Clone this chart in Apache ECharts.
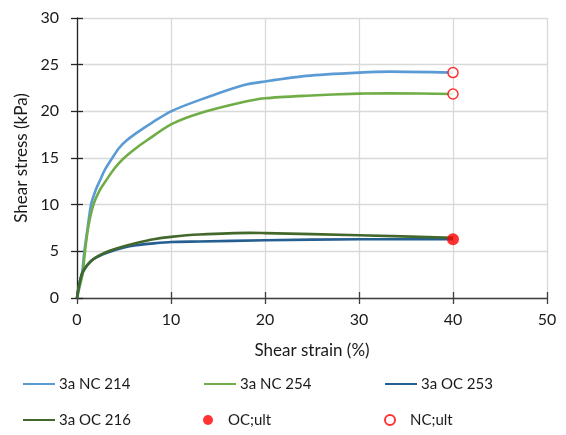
<!DOCTYPE html>
<html>
<head>
<meta charset="utf-8">
<script src="https://cdn.jsdelivr.net/npm/echarts@6/dist/echarts.min.js"></script>
<style>
  html, body { margin: 0; padding: 0; background: #ffffff; }
  #chart { width: 566px; height: 435px; }
</style>
</head>
<body>
<div id="chart"></div>
<script>
// Shear strain (%) vs shear stress (kPa) for each test, as [strain, stress] pairs
const nc214 = [[0,0],[0.25,1.3],[0.53,2.6],[0.78,5],[1.14,7.6],[1.49,10],[2.0,11.6],[2.4,12.5],[3.0,13.8],[3.75,15],[4.5,16.1],[5.3,16.9],[6.5,17.8],[8,18.8],[10,20],[13,21.2],[17.7,22.8],[20,23.2],[24.4,23.8],[30,24.15],[33.3,24.25],[40,24.15]];
const nc254 = [[0,0],[0.3,1.3],[0.6,2.6],[0.85,5],[1.2,7.6],[1.75,10],[2.4,11.5],[3.1,12.6],[4.0,13.9],[5.0,15],[6.2,16],[7.45,16.9],[10,18.6],[13.06,19.8],[17.7,21.0],[20,21.4],[24.4,21.67],[30,21.9],[33.3,21.93],[40,21.86]];
const oc253 = [[0,0],[0.18,1.18],[0.53,2.6],[1.07,3.5],[1.78,4.2],[3.2,4.85],[5,5.4],[6.32,5.65],[8.16,5.85],[10,6.0],[13,6.05],[20,6.19],[30,6.3],[40,6.3]];
const oc216 = [[0,0],[0.18,1.18],[0.53,2.6],[1.07,3.5],[1.78,4.2],[3.2,4.95],[5,5.55],[6.32,5.9],[8.16,6.3],[10,6.55],[13,6.8],[18.4,6.98],[20,6.95],[30,6.73],[40,6.45]];
// Ultimate values at the end of each test
const ocUlt = [[40,6.3]];
const ncUlt = [[40,24.15],[40,21.86]];

const xTicks = { min: 0, max: 50, interval: 10 };
const yTicks = { min: 0, max: 30, interval: 5 };

const font = 'Lato';
const txt = '#1a1a1a';
const axisCol = '#404040';

const chart = echarts.init(document.getElementById('chart'), null, { renderer: 'canvas' });

function legendAt(name, left, centerY, isLine) {
  const lg = {
    data: [name], left: left, top: centerY - 9, padding: 0,
    itemWidth: 32, itemHeight: 10, itemGap: 0,
    textStyle: { fontFamily: font, fontSize: 15, color: txt, lineHeight: 18, padding: [0, 0, 0, -1] },
    selectedMode: false
  };
  // line entries show only the stroke, without a point marker
  if (isLine) lg.itemStyle = { opacity: 0 };
  return lg;
}

chart.setOption({
  animation: false,
  backgroundColor: '#ffffff',
  grid: { left: 77, right: 19, top: 18, bottom: 137, containLabel: false },
  xAxis: [{
    type: 'value', ...xTicks,
    name: 'Shear strain (%)', nameLocation: 'middle', nameGap: 44,
    nameTextStyle: { fontFamily: font, fontSize: 17, color: txt },
    axisLine: { show: true, onZero: false, lineStyle: { color: axisCol, width: 1.3 } },
    axisTick: { show: true, length: 6, lineStyle: { color: axisCol, width: 1.3 } },
    axisLabel: { fontFamily: font, fontSize: 16, color: txt, margin: 14 },
    splitLine: { show: true, lineStyle: { color: '#d9d9d9', width: 1.3 } }
  }, {
    // inward half of the crossing tick marks
    type: 'value', ...xTicks, position: 'bottom', offset: 0,
    axisLine: { show: false }, axisLabel: { show: false }, splitLine: { show: false },
    axisTick: { show: true, inside: true, length: 6, lineStyle: { color: axisCol, width: 1.3 } }
  }],
  yAxis: [{
    type: 'value', ...yTicks,
    name: 'Shear stress (kPa)', nameLocation: 'middle', nameGap: 44,
    nameTextStyle: { fontFamily: font, fontSize: 17, color: txt },
    axisLine: { show: true, onZero: false, lineStyle: { color: '#262626', width: 1.3 } },
    axisTick: { show: true, length: 6, lineStyle: { color: '#262626', width: 1.3 } },
    axisLabel: { fontFamily: font, fontSize: 16, color: txt, margin: 18 },
    splitLine: { show: true, lineStyle: { color: '#d9d9d9', width: 1.3 } }
  }, {
    type: 'value', ...yTicks, position: 'left', offset: 0,
    axisLine: { show: false }, axisLabel: { show: false }, splitLine: { show: false },
    axisTick: { show: true, inside: true, length: 6, lineStyle: { color: '#262626', width: 1.3 } }
  }],
  legend: [
    legendAt('3a NC 214', 22, 384, true),
    legendAt('3a NC 254', 203, 384, true),
    legendAt('3a OC 253', 384, 384, true),
    legendAt('3a OC 216', 22, 420, true),
    legendAt('OC;ult', 203, 420, false),
    legendAt('NC;ult', 384, 420, false)
  ],
  series: [
    { name: '3a NC 214', type: 'line', data: nc214, smooth: 0.25, symbol: 'none', lineStyle: { color: '#5b9bd5', width: 2.6 }, itemStyle: { color: '#5b9bd5' } },
    { name: '3a NC 254', type: 'line', data: nc254, smooth: 0.25, symbol: 'none', lineStyle: { color: '#70ad47', width: 2.6 }, itemStyle: { color: '#70ad47' } },
    { name: '3a OC 253', type: 'line', data: oc253, smooth: 0.25, symbol: 'none', lineStyle: { color: '#255e91', width: 2.6 }, itemStyle: { color: '#255e91' } },
    { name: '3a OC 216', type: 'line', data: oc216, smooth: 0.25, symbol: 'none', lineStyle: { color: '#43682b', width: 2.6 }, itemStyle: { color: '#43682b' } },
    { name: 'OC;ult', type: 'scatter', data: ocUlt, symbol: 'circle', symbolSize: 12, itemStyle: { color: '#ff0000' }, z: 5 },
    { name: 'NC;ult', type: 'scatter', data: ncUlt, symbol: 'circle', symbolSize: 10, itemStyle: { color: '#ffffff', borderColor: '#ff0000', borderWidth: 1.5 }, z: 5 }
  ]
});
</script>
</body>
</html>
